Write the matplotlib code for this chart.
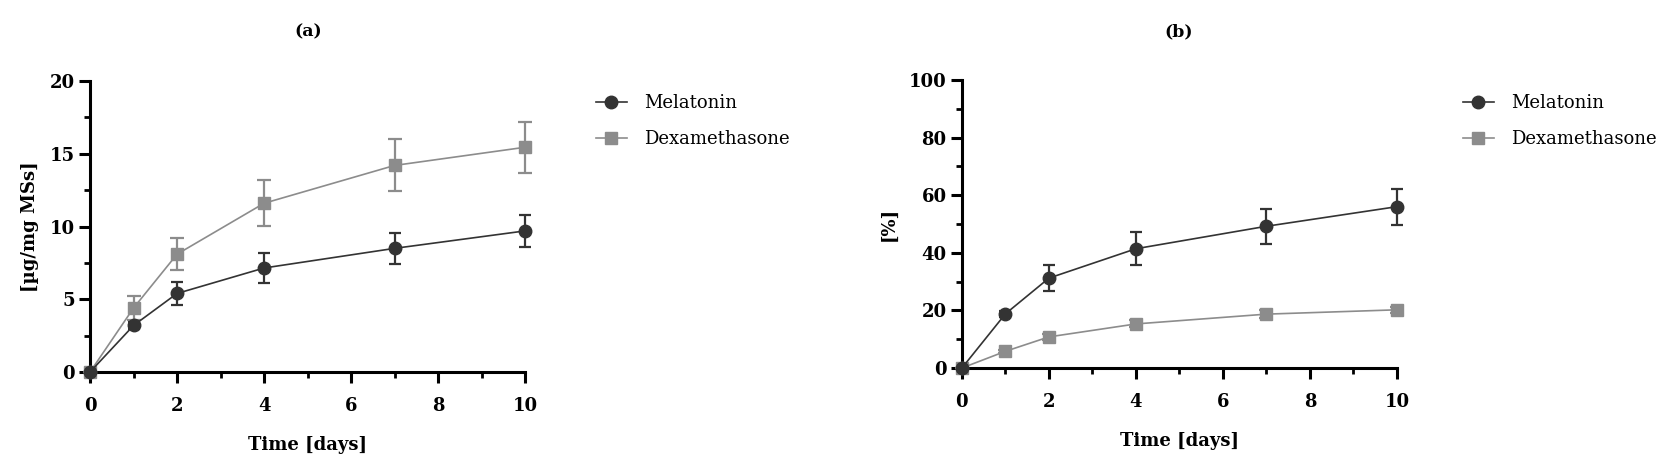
import numpy as np
import matplotlib.pyplot as plt
from matplotlib.ticker import MultipleLocator

plt.rcParams['font.family'] = ['DejaVu Serif']

days = [0, 1, 2, 4, 7, 10]

# (a) release in ug/mg MSs
mel_a = [0, 3.2, 5.4, 7.15, 8.5, 9.7]
mel_a_err = [0, 0.25, 0.78, 1.0, 1.05, 1.08]
dex_a = [0, 4.4, 8.1, 11.6, 14.2, 15.45]
dex_a_err = [0, 0.85, 1.12, 1.57, 1.79, 1.77]

# (b) release in %
mel_b = [0, 18.8, 31.2, 41.4, 49.2, 56.0]
mel_b_err = [0, 1.0, 4.5, 5.7, 6.1, 6.2]
dex_b = [0, 5.8, 10.8, 15.3, 18.7, 20.2]
dex_b_err = [0, 0.6, 1.0, 1.2, 1.5, 1.0]

dark = '#333333'
grey = '#8c8c8c'

fig = plt.figure(figsize=(16.77, 4.70), dpi=100)

ax1 = fig.add_axes([0.0537, 0.2085, 0.2594, 0.619])
ax2 = fig.add_axes([0.5736, 0.217, 0.2594, 0.613])


def panel(ax, mel, mel_err, dex, dex_err, ymax, ymaj, ylab, title, tx, lx):
    h1 = ax.errorbar(days, mel, yerr=mel_err, color=dark, marker='o', markersize=9,
                     lw=1.2, elinewidth=1.6, capsize=4.5, capthick=1.6, zorder=4,
                     clip_on=False)
    h2 = ax.errorbar(days, dex, yerr=dex_err, color=grey, marker='s', markersize=8,
                     lw=1.2, elinewidth=1.6, capsize=5, capthick=1.6, zorder=3,
                     clip_on=False)
    ax.set_xlim(0, 10)
    ax.set_ylim(0, ymax)
    ax.xaxis.set_major_locator(MultipleLocator(2))
    ax.xaxis.set_minor_locator(MultipleLocator(1))
    ax.yaxis.set_major_locator(MultipleLocator(ymaj))
    ax.yaxis.set_minor_locator(MultipleLocator(ymaj / 2))
    for s in ['top', 'right']:
        ax.spines[s].set_visible(False)
    for s in ['left', 'bottom']:
        ax.spines[s].set_linewidth(2.2)
        ax.spines[s].set_color('black')
    ax.tick_params(which='major', length=8, width=2.2, labelsize=13)
    ax.tick_params(which='minor', length=4.5, width=2.0)
    ax.tick_params(axis='x', which='major', pad=10)
    ax.tick_params(axis='y', which='major', pad=3)
    for lab in ax.get_xticklabels() + ax.get_yticklabels():
        lab.set_fontweight('bold')
    ax.set_xlabel('Time [days]', fontsize=13, fontweight='bold', labelpad=15)
    ax.set_ylabel(ylab, fontsize=13, fontweight='bold', labelpad=8)
    fig.text(tx, 0.932, title, fontsize=12.5, fontweight='bold', ha='center', va='center')
    ax.legend([h1[0], h2[0]], ['Melatonin', 'Dexamethasone'], loc='upper left',
              bbox_to_anchor=(lx, 0.80), bbox_transform=fig.transFigure,
              frameon=False, fontsize=13, handlelength=1.7, handletextpad=0.95,
              labelspacing=1.0, borderpad=0, borderaxespad=0)


panel(ax1, mel_a, mel_a_err, dex_a, dex_a_err, 20, 5, '[µg/mg MSs]', '(a)', 0.184, 0.3554)
panel(ax2, mel_b, mel_b_err, dex_b, dex_b_err, 100, 20, '[%]', '(b)', 0.703, 0.8724)

fig.savefig('out.png', dpi=100)
